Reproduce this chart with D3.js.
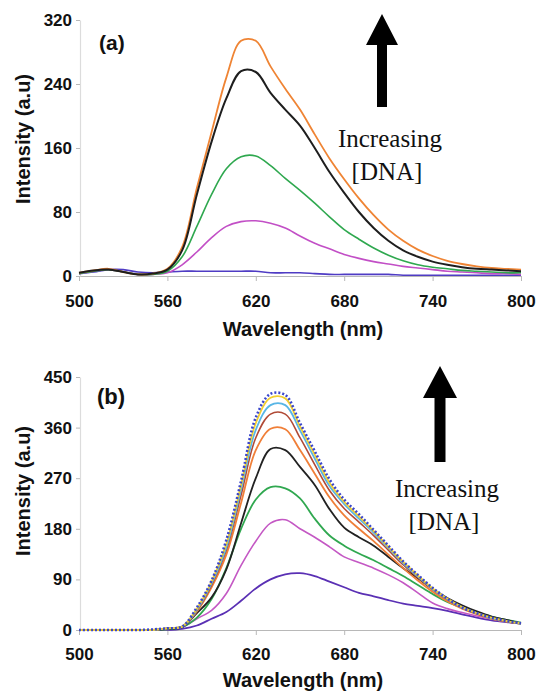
<!DOCTYPE html>
<html>
<head>
<meta charset="utf-8">
<script src="https://cdn.jsdelivr.net/npm/d3@7"></script>
<style>
  html, body { margin: 0; padding: 0; background: #fff; }
  svg { display: block; }
  .tick text { font-family: "Liberation Sans", Arial, sans-serif; font-weight: bold; font-size: 17px; fill: #111; }
  .axis-title { font-family: "Liberation Sans", Arial, sans-serif; font-weight: bold; fill: #111; }
  .note { font-family: "Liberation Serif", "Times New Roman", serif; fill: #111; }
</style>
</head>
<body>
<script>
// Emission spectra, wavelength in nm
const wavelengths = [500,510,520,530,540,550,560,570,580,590,600,610,620,630,640,650,660,670,680,690,700,710,720,730,740,750,760,770,780,790,800];
const xTicks = [500,560,620,680,740,800];

// Panel (a)
const yTicksA = [0,80,160,240,320];
const a_blue    = [3,5,8,8,5,4,5,6,6,6,6,6,6,4,4,4,3,2,2,2,2,2,1,1,1,1,1,1,1,1,1];
const a_magenta = [3,6,8,5,2,2,4,14,30,48,62,68,69,66,60,50,41,34,27,22,18,15,12,10,8,6,5,4,3,3,2];
const a_green   = [3,6,8,5,2,2,6,24,62,102,134,149,150,138,122,107,91,74,58,46,35,26,19,14,11,9,7,6,5,4,4];
const a_black   = [4,7,8,5,2,3,8,32,102,168,222,256,255,229,208,188,160,130,104,80,60,44,32,24,18,14,11,9,8,7,6];
const a_orange  = [4,7,9,5,2,3,9,36,110,180,248,294,294,262,234,208,177,147,121,97,76,58,44,33,25,19,15,12,10,9,8];

// Panel (b)
const yTicksB = [0,90,180,270,360,450];
const b_purple    = [0,0,0,0,0,0,0,2,8,20,32,52,74,90,99,101,96,86,76,66,60,53,47,43,39,34,28,22,17,14,12];
const b_magenta   = [0,0,0,0,0,0,1,5,20,35,65,115,158,190,196,180,165,148,130,120,110,98,84,66,48,38,31,25,20,15,12];
const b_green     = [0,0,0,0,0,0,1,5,22,55,110,180,232,254,252,234,198,168,150,136,124,110,96,80,64,50,40,31,24,18,13];
const b_black     = [0,0,0,0,0,0,2,5,30,58,108,190,270,322,320,290,258,215,182,165,150,130,110,92,73,57,44,33,24,18,12];
const b_orange    = [0,0,0,0,0,0,3,6,33,76,134,226,320,358,357,320,278,236,204,180,158,134,110,88,68,51,38,28,20,15,11];
const b_darkred   = [0,0,0,0,0,0,3,6,35,80,142,240,342,384,384,342,294,248,216,192,168,142,116,93,72,54,40,29,21,15,11];
const b_lightblue = [0,0,0,0,0,0,3,6,36,83,147,250,356,400,400,355,305,256,224,198,173,146,119,95,73,55,40,30,21,16,11];
const b_yellow    = [0,0,0,0,0,0,3,6,38,86,153,258,368,413,412,362,312,262,228,202,176,148,121,97,74,56,41,30,22,16,12];
const b_blue      = [0,0,0,0,0,1,3,6,40,88,160,265,378,420,418,368,318,268,232,206,178,150,122,98,75,56,40,30,22,16,12];

const svg = d3.select("body").append("svg").attr("width", 540).attr("height", 696);
svg.append("rect").attr("width", 540).attr("height", 696).attr("fill", "#fff");

function panel(cfg) {
  const x = d3.scaleLinear().domain([500, 800]).range([79, 521]);
  const y = d3.scaleLinear().domain(cfg.yDomain).range(cfg.yRange);
  const g = svg.append("g");

  // axes
  const xa = g.append("g").attr("transform", `translate(0,${cfg.yRange[0]})`)
    .call(d3.axisBottom(x).tickValues(xTicks).tickSize(5).tickPadding(cfg.xPad).tickSizeOuter(0));
  const ya = g.append("g").attr("transform", `translate(80,0)`)
    .call(d3.axisLeft(y).tickValues(cfg.yTicks).tickSize(4).tickPadding(4).tickSizeOuter(0));
  [xa, ya].forEach(a => {
    a.select(".domain").attr("stroke", "#b8b8b8").attr("stroke-width", 1.2);
    a.selectAll(".tick line").attr("stroke", "#b8b8b8");
  });
  ya.select(".domain").attr("stroke", "#dcdcdc");

  const line = d3.line()
    .x((d, i) => x(wavelengths[i]))
    .y(d => y(d))
    .curve(d3.curveCatmullRom.alpha(0.5));

  cfg.series.forEach(s => {
    g.append("path")
      .attr("d", line(s.values))
      .attr("fill", "none")
      .attr("stroke", s.color)
      .attr("stroke-width", s.width || 1.6)
      .attr("stroke-dasharray", s.dash || null)
      .attr("stroke-linejoin", "round");
  });

  // panel label
  g.append("text").attr("class", "axis-title")
    .attr("x", cfg.label.x).attr("y", cfg.label.y)
    .style("font-size", cfg.label.size + "px").text(cfg.label.text);

  // axis titles
  g.append("text").attr("class", "axis-title")
    .attr("x", 303).attr("y", cfg.xTitleY).attr("text-anchor", "middle")
    .style("font-size", "20px").text("Wavelength (nm)");
  g.append("text").attr("class", "axis-title")
    .attr("transform", `translate(30,${cfg.yTitleY}) rotate(-90)`)
    .attr("text-anchor", "middle")
    .style("font-size", "20px").text("Intensity (a.u)");

  // trend arrow
  const ar = cfg.arrow;
  const hw = ar.headW / 2, sw = ar.shaftW / 2;
  g.append("path")
    .attr("d", `M${ar.cx},${ar.top} L${ar.cx + hw},${ar.headBase} L${ar.cx + sw},${ar.headBase} L${ar.cx + sw},${ar.bottom} L${ar.cx - sw},${ar.bottom} L${ar.cx - sw},${ar.headBase} L${ar.cx - hw},${ar.headBase} Z`)
    .attr("fill", "#000");
  g.append("text").attr("class", "note")
    .attr("x", ar.textX).attr("y", ar.textY).attr("text-anchor", "middle")
    .style("font-size", "25px").text("Increasing");
  g.append("text").attr("class", "note")
    .attr("x", ar.textX - 3).attr("y", ar.textY + 33).attr("text-anchor", "middle")
    .style("font-size", "25px").text("[DNA]");
}

panel({
  yDomain: [0, 320], yRange: [276, 20], yTicks: yTicksA, xPad: 14,
  xTitleY: 336, yTitleY: 139,
  label: { text: "(a)", x: 99, y: 50, size: 21 },
  arrow: { cx: 382, top: 14, headBase: 45, bottom: 107, headW: 32, shaftW: 10, textX: 390, textY: 147 },
  series: [
    { values: a_blue, color: "#4f3cc4" },
    { values: a_magenta, color: "#c24fc6" },
    { values: a_green, color: "#2fa84f" },
    { values: a_orange, color: "#ef8434", width: 1.8 },
    { values: a_black, color: "#1e1e1e", width: 2 }
  ]
});

panel({
  yDomain: [0, 450], yRange: [630, 377], yTicks: yTicksB, xPad: 13,
  xTitleY: 687, yTitleY: 491,
  label: { text: "(b)", x: 97, y: 404, size: 22 },
  arrow: { cx: 440, top: 366, headBase: 398, bottom: 462, headW: 34, shaftW: 11, textX: 447, textY: 497 },
  series: [
    { values: b_purple, color: "#5a30b4", width: 1.8 },
    { values: b_magenta, color: "#c458c4" },
    { values: b_green, color: "#30a850", width: 1.8 },
    { values: b_black, color: "#222222", width: 1.8 },
    { values: b_orange, color: "#f07f38", width: 1.8 },
    { values: b_darkred, color: "#b04a36" },
    { values: b_lightblue, color: "#58b6e6", width: 1.8 },
    { values: b_yellow, color: "#f2cf30", width: 1.8 },
    { values: b_blue, color: "#3a46cc", width: 2.6, dash: "2,2" }
  ]
});
</script>
</body>
</html>
